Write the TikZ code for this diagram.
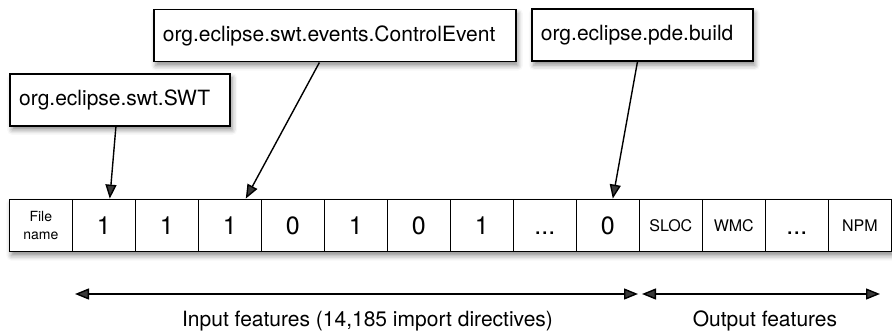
\documentclass[tikz,border=0pt]{standalone}
\usepackage{fontspec}
\setmainfont{TeX Gyre Heros}
\usetikzlibrary{calc,arrows.meta,shadows.blur}

\newcommand{\threedots}{\vphantom{0}...}
\tikzset{
  namebox/.style={draw, line width=1.8pt, fill=white, anchor=north west,
    inner xsep=9pt, inner ysep=0pt, minimum height=52pt, align=left,
    font=\fontsize{21}{25}\selectfont,
    blur shadow={shadow xshift=2pt, shadow yshift=-4pt, shadow blur radius=5pt, shadow opacity=45}},
  cellbox/.style={draw, line width=1.4pt, minimum width=63pt, minimum height=52.4pt,
    inner sep=0pt, font=\fontsize{25}{28}\selectfont},
  smallcell/.style={font=\fontsize{16}{18}\selectfont},
  pointer/.style={line width=1.4pt, -{Triangle[length=14pt,width=11pt]}},
  span/.style={line width=1.4pt, {Triangle[length=14pt,width=11pt]}-{Triangle[length=14pt,width=11pt]}},
  caption/.style={font=\fontsize{21}{25}\selectfont}
}

\begin{document}
\begin{tikzpicture}[x=1pt,y=-1pt]
  \useasboundingbox (0,0) rectangle (892,334);

  % import names
  \node[namebox, text width=202pt] (swt) at (9.3,73) {org.eclipse.swt.SWT};
  \node[namebox, text width=344pt] (ctrl) at (153,8.7) {org.eclipse.swt.events.ControlEvent};
  \node[namebox, text width=203pt] (pde) at (531,8.3) {org.eclipse.pde.build};

  % feature vector
  \fill[white, blur shadow={shadow xshift=2pt, shadow yshift=-4pt, shadow blur radius=5pt, shadow opacity=45}]
    (9.3,199.3) rectangle (891.3,251.7);
  \node[cellbox, font=\fontsize{14}{18}\selectfont, align=center] (c0) at (40.8,225.5) {File\\name};
  \foreach \v [count=\i] in {1,1,1,0,1,0,1,\threedots,0}
    \node[cellbox] (c\i) at (40.8+63*\i,225.5) {\v};
  \node[cellbox, smallcell] (c10) at (40.8+630,225.5) {SLOC};
  \node[cellbox, smallcell] (c11) at (40.8+693,225.5) {WMC};
  \node[cellbox] (c12) at (40.8+756,225.5) {\threedots};
  \node[cellbox, smallcell] (c13) at (40.8+819,225.5) {NPM};

  \draw[pointer] ($(swt.south)+(-4.3,0)$) -- ($(c1.north)+(6,0)$);
  \draw[pointer] ($(ctrl.south)+(-15.5,0)$) -- ($(c3.north)+(16,0)$);
  \draw[pointer] ($(pde.south)+(-5,0)$) -- ($(c9.north)+(5,0)$);

  % ranges
  \coordinate (inL) at (75,294);
  \coordinate (inR) at (638,294);
  \coordinate (outL) at (642,294);
  \coordinate (outR) at (880,294);
  \draw[span] (inL) -- (inR);
  \draw[span] (outL) -- (outR);
  \node[caption] (inlbl) at (367.5,321) {Input features (14,185 import directives)};
  \node[caption] (outlbl) at (765,321) {Output features};
\end{tikzpicture}
\end{document}
